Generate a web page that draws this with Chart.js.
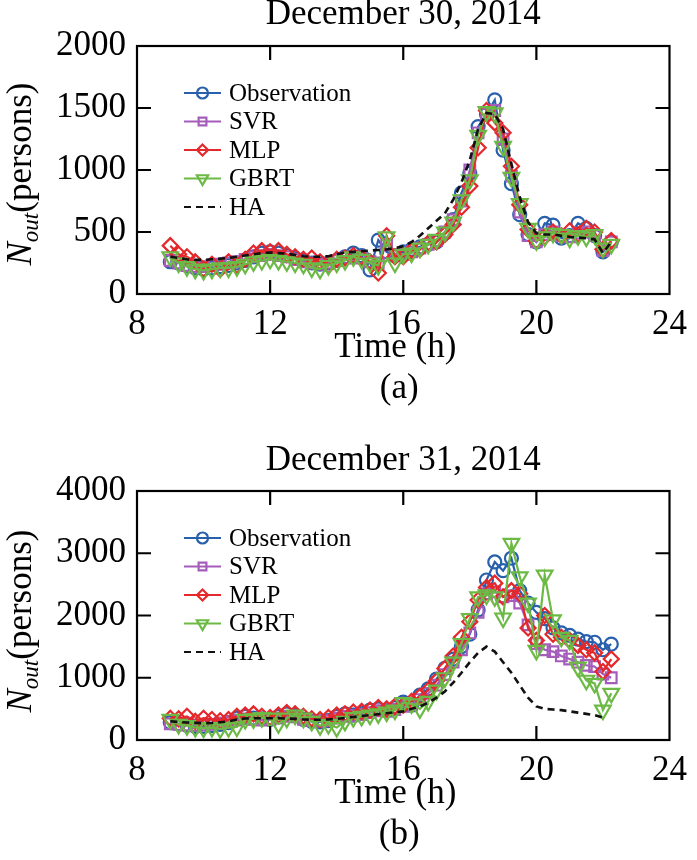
<!DOCTYPE html>
<html>
<head>
<meta charset="utf-8">
<script src="https://cdn.jsdelivr.net/npm/chart.js@4.4.1/dist/chart.umd.min.js"></script>
<style>
  body { margin: 0; background: #fff; }
  #wrap { position: relative; width: 697px; height: 860px; }
  canvas { position: absolute; left: 0; }
</style>
</head>
<body>
<div id="wrap">
  <canvas id="chartA" width="697" height="420" style="top:0"></canvas>
  <canvas id="chartB" width="697" height="440" style="top:420px"></canvas>
</div>
<script>
// time of day (h), 15 min steps
const times = [
  9, 9.25, 9.5, 9.75, 10, 10.25, 10.5, 10.75, 11, 11.25, 11.5, 11.75,
  12, 12.25, 12.5, 12.75, 13, 13.25, 13.5, 13.75, 14, 14.25, 14.5, 14.75,
  15, 15.25, 15.5, 15.75, 16, 16.25, 16.5, 16.75, 17, 17.25, 17.5, 17.75,
  18, 18.25, 18.5, 18.75, 19, 19.25, 19.5, 19.75, 20, 20.25, 20.5, 20.75,
  21, 21.25, 21.5, 21.75, 22, 22.25
];

const seriesNames = ['Observation', 'SVR', 'MLP', 'GBRT', 'HA'];
const xTicks = [8, 12, 16, 20, 24];
const yTicksA = [0, 500, 1000, 1500, 2000];
const yTicksB = [0, 1000, 2000, 3000, 4000];

// (a) December 30, 2014
const obsA = [260, 250, 230, 210, 200, 210, 220, 230, 250, 270, 300, 330,
  340, 330, 310, 290, 270, 250, 240, 250, 270, 300, 330, 310,
  195, 435, 340, 310, 340, 360, 380, 400, 420, 490, 600, 815,
  975, 1350, 1450, 1565, 1160, 890, 640, 480, 420, 570, 555, 450,
  470, 570, 530, 470, 340, 420];
const svrA = [270, 250, 230, 220, 220, 230, 240, 250, 260, 280, 300, 310,
  320, 310, 300, 280, 260, 250, 240, 250, 270, 290, 300, 290,
  260, 250, 400, 320, 320, 340, 370, 400, 430, 500, 600, 750,
  1000, 1300, 1450, 1480, 1250, 950, 660, 470, 420, 480, 500, 470,
  460, 490, 500, 470, 350, 420];
const mlpA = [390, 320, 300, 260, 200, 240, 200, 260, 230, 280, 330, 350,
  340, 350, 320, 300, 280, 290, 260, 230, 280, 290, 310, 290,
  260, 170, 470, 300, 300, 350, 360, 410, 420, 480, 560, 700,
  870, 1180, 1480, 1380, 1300, 1030, 720, 520, 430, 460, 500, 470,
  510, 480, 530, 500, 360, 430];
const gbrtA = [300, 250, 220, 200, 190, 200, 210, 210, 220, 240, 260, 270,
  280, 270, 260, 250, 240, 210, 200, 230, 250, 270, 300, 280,
  250, 230, 460, 250, 320, 330, 370, 400, 440, 500, 580, 760,
  920, 1280, 1470, 1460, 1190, 940, 730, 530, 430, 460, 490, 480,
  450, 470, 460, 480, 370, 400];
const haA = [300, 290, 280, 275, 275, 280, 285, 290, 300, 310, 320, 330,
  335, 330, 325, 315, 305, 300, 300, 305, 320, 335, 340, 345,
  350, 355, 360, 370, 385, 420, 470, 530, 590, 650, 760, 900,
  1080, 1330, 1460, 1450, 1330, 1050, 780, 580, 490, 480, 480, 470,
  460, 455, 450, 440, 330, 420];

// (b) December 31, 2014
const obsB = [280, 260, 240, 220, 220, 230, 250, 280, 350, 380, 350, 340,
  330, 380, 420, 400, 330, 300, 290, 310, 380, 420, 400, 430,
  480, 500, 470, 520, 610, 560, 720, 820, 980, 1150, 1300, 1500,
  1700, 2090, 2570, 2860, 2720, 2920, 2400, 2200, 2050, 1950, 1800, 1720,
  1680, 1620, 1580, 1570, 1450, 1540];
const svrB = [260, 250, 240, 230, 240, 250, 270, 290, 320, 340, 330, 320,
  330, 350, 380, 370, 330, 310, 300, 310, 350, 380, 390, 410,
  440, 470, 460, 490, 540, 560, 650, 750, 880, 1050, 1250, 1450,
  1720, 2050, 2350, 2380, 2300, 2320, 2200, 1850, 1550, 1450, 1420, 1350,
  1300, 1250, 1200, 1180, 1060, 1000];
const mlpB = [350, 340, 380, 300, 350, 330, 310, 330, 380, 400, 420, 380,
  360, 400, 440, 420, 380, 340, 330, 360, 400, 420, 450, 460,
  480, 520, 500, 540, 560, 620, 700, 800, 950, 1150, 1350, 1650,
  1900, 2250, 2450, 2520, 2300, 2400, 2350, 1800, 1600, 2000, 1700, 1650,
  1600, 1520, 1450, 1400, 1100, 1300];
const gbrtB = [330, 250, 230, 200, 190, 200, 180, 200, 210, 330, 340, 360,
  350, 260, 350, 400, 350, 300, 230, 250, 200, 300, 360, 380,
  400, 420, 450, 480, 600, 580, 500, 620, 800, 1000, 1250, 1550,
  1950, 2300, 2330, 2300, 1960, 3160, 2620, 2200, 1440, 2650, 1930, 1650,
  1600, 1170, 960, 910, 480, 750];
const haB = [300, 290, 280, 275, 270, 275, 285, 300, 330, 345, 350, 350,
  350, 350, 345, 340, 330, 325, 325, 330, 340, 355, 370, 385,
  400, 415, 430, 445, 460, 500, 540, 600, 680, 780, 920, 1080,
  1250, 1400, 1500, 1420, 1250, 1080, 880, 680, 540, 500, 490, 480,
  460, 440, 420, 400, 360, null];

const serif = "'Liberation Serif', 'Times New Roman', serif";
const colors = ['#2860ad', '#a55dbb', '#e5282b', '#6cba45', '#111111'];
const markers = ['circle', 'rect', 'rectRot', 'triangle', false];
const radii = [6.5, 7.5, 7.5, 9, 0];
const drawOrder = [4, 3, 2, 1, 0];

function makeDatasets(all) {
  return all.map((vals, i) => ({
    label: seriesNames[i],
    data: times.map((t, j) => ({ x: t, y: vals[j] })),
    borderColor: colors[i],
    backgroundColor: 'rgba(0,0,0,0)',
    pointBackgroundColor: 'rgba(0,0,0,0)',
    pointBorderColor: colors[i],
    pointStyle: markers[i],
    pointRadius: radii[i],
    pointRotation: i === 3 ? 180 : 0,
    pointBorderWidth: 2.2,
    borderWidth: i === 4 ? 2.6 : 2.2,
    borderDash: i === 4 ? [7, 5] : [],
    tension: 0,
    order: drawOrder[i]
  }));
}

function drawYLabel(ctx, bx, cy) {
  ctx.save();
  ctx.translate(bx, cy);
  ctx.rotate(-Math.PI / 2);
  ctx.fillStyle = '#000';
  ctx.textBaseline = 'alphabetic';
  ctx.textAlign = 'left';
  const fN = 'italic 35px ' + serif, fSub = 'italic 23px ' + serif, fRest = '35px ' + serif;
  ctx.font = fN; const wN = ctx.measureText('N').width;
  ctx.font = fSub; const wS = ctx.measureText('out').width;
  ctx.font = fRest; const wR = ctx.measureText('(persons)').width;
  let x0 = -(wN + wS + wR) / 2;
  ctx.font = fN; ctx.fillText('N', x0, 0); x0 += wN;
  ctx.font = fSub; ctx.fillText('out', x0, 7); x0 += wS;
  ctx.font = fRest; ctx.fillText('(persons)', x0, 0);
  ctx.restore();
}

const decor = {
  id: 'decor',
  afterDraw(chart, args, o) {
    const { ctx, chartArea: a, scales: { x, y } } = chart;
    ctx.save();
    // frame with inner ticks on all sides
    ctx.strokeStyle = '#000';
    ctx.lineWidth = 2.2;
    ctx.setLineDash([]);
    ctx.strokeRect(a.left, a.top, a.right - a.left, a.bottom - a.top);
    ctx.beginPath();
    xTicks.slice(1, -1).forEach(v => {
      const px = x.getPixelForValue(v);
      ctx.moveTo(px, a.bottom); ctx.lineTo(px, a.bottom - 14);
      ctx.moveTo(px, a.top); ctx.lineTo(px, a.top + 14);
    });
    o.yTicks.slice(1, -1).forEach(v => {
      const py = y.getPixelForValue(v);
      ctx.moveTo(a.left, py); ctx.lineTo(a.left + 14, py);
      ctx.moveTo(a.right, py); ctx.lineTo(a.right - 14, py);
    });
    ctx.stroke();

    // texts
    const cx = (a.left + a.right) / 2;
    ctx.fillStyle = '#000';
    ctx.textAlign = 'center';
    ctx.textBaseline = 'alphabetic';
    ctx.font = '35px ' + serif;
    ctx.fillText(o.title, cx, o.titleY);
    ctx.fillText('Time (h)', cx - 8, a.bottom + 63);
    ctx.fillText(o.tag, cx - 4, a.bottom + 104);
    drawYLabel(ctx, 31, o.labelY);

    // legend
    ctx.font = '25px ' + serif;
    ctx.textAlign = 'left';
    ctx.textBaseline = 'middle';
    seriesNames.forEach((name, i) => {
      const ry = o.legendY + i * 28.5;
      ctx.strokeStyle = colors[i];
      ctx.lineWidth = 2.2;
      ctx.setLineDash(i === 4 ? [7, 5] : []);
      ctx.beginPath();
      ctx.moveTo(184, ry); ctx.lineTo(221, ry);
      ctx.stroke();
      ctx.setLineDash([]);
      if (markers[i]) {
        ctx.fillStyle = 'rgba(0,0,0,0)';
        Chart.helpers.drawPoint(ctx, {
          pointStyle: markers[i], rotation: i === 3 ? 180 : 0,
          radius: i === 3 ? 6.5 : 5.5, borderWidth: 2.2
        }, 202.5, ry);
      }
      ctx.fillStyle = '#000';
      ctx.fillText(name, 229, ry + 1);
    });
    ctx.restore();
  }
};

function makeChart(id, all, yTicks, pad, xHeight, o) {
  new Chart(document.getElementById(id), {
    type: 'line',
    data: { datasets: makeDatasets(all) },
    options: {
      responsive: false,
      animation: false,
      layout: { padding: { left: 0, top: pad, right: 20, bottom: 0 } },
      plugins: { legend: { display: false }, tooltip: { enabled: false }, decor: o },
      scales: {
        x: {
          type: 'linear', min: xTicks[0], max: xTicks[xTicks.length - 1],
          ticks: { stepSize: 4, color: '#000', font: { family: serif, size: 35 }, padding: 10, maxRotation: 0,
            callback: v => String(v) },
          grid: { display: false, drawTicks: false },
          border: { display: false },
          afterFit: s => { s.height = xHeight; }
        },
        y: {
          type: 'linear', min: yTicks[0], max: yTicks[yTicks.length - 1],
          ticks: { stepSize: yTicks[1] - yTicks[0], color: '#000', font: { family: serif, size: 35 }, padding: 11,
            callback: v => String(v) },
          grid: { display: false, drawTicks: false },
          border: { display: false },
          afterFit: s => { s.width = 137; }
        }
      }
    },
    plugins: [decor]
  });
}

makeChart('chartA', [obsA, svrA, mlpA, gbrtA, haA], yTicksA, 46, 126,
  { title: 'December 30, 2014', titleY: 24, tag: '(a)', labelY: 174, legendY: 93, yTicks: yTicksA });
makeChart('chartB', [obsB, svrB, mlpB, gbrtB, haB], yTicksB, 71, 120,
  { title: 'December 31, 2014', titleY: 50, tag: '(b)', labelY: 201, legendY: 118, yTicks: yTicksB });
</script>
</body>
</html>
